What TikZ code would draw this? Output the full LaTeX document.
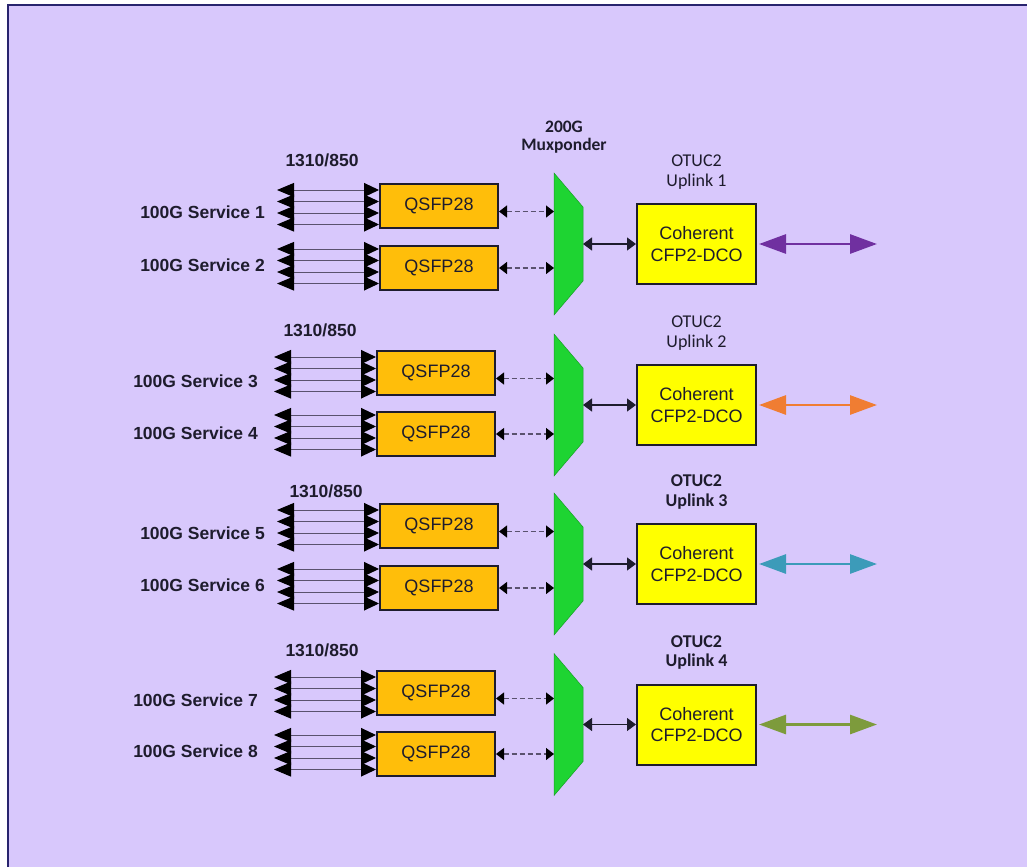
\documentclass[tikz,border=0pt]{standalone}
\usepackage{fontspec}
\setmainfont{Liberation Sans}
\newfontfamily\calfont{Carlito}
\usetikzlibrary{arrows.meta,calc}
\definecolor{bg}{RGB}{216,200,252}
\definecolor{framec}{RGB}{40,36,110}
\definecolor{qs}{RGB}{255,190,10}
\definecolor{coh}{RGB}{255,255,0}
\definecolor{muxc}{RGB}{30,212,50}
\definecolor{txt}{RGB}{30,28,45}
\definecolor{fib}{RGB}{90,82,110}
\definecolor{upa}{RGB}{112,48,160}
\definecolor{upb}{RGB}{240,125,50}
\definecolor{upc}{RGB}{60,155,185}
\definecolor{upd}{RGB}{125,155,60}
\begin{document}
\begin{tikzpicture}[x=1pt,y=-1pt,
 every node/.style={text=txt},
 lab/.style={font=\fontsize{17.5}{20}\selectfont\bfseries, anchor=east, inner sep=0},
 wave/.style={font=\fontsize{17.5}{20}\selectfont\bfseries, inner sep=0},
 qsfp/.style={draw=txt, fill=qs, line width=2pt, minimum width=118pt, minimum height=44pt, inner sep=0, font=\fontsize{18}{20}\selectfont},
 cohbox/.style={draw=txt, fill=coh, line width=2pt, minimum width=119pt, minimum height=80pt, inner sep=0, align=center, font=\fontsize{18}{21.5}\selectfont},
 fiber/.style={draw=fib, line width=1pt, {Triangle[length=17pt,width=14pt,color=black]}-{Triangle[length=15pt,width=14pt,color=black]}},
 dashline/.style={draw=fib, line width=1.2pt, dash pattern=on 5pt off 3pt, {Triangle[length=8pt,width=12pt,color=black]}-{Triangle[length=8pt,width=12pt,color=black]}},
 link/.style={draw=txt, line width=1.2pt, {Triangle[length=9pt,width=13pt]}-{Triangle[length=9pt,width=13pt]}},
 uplink/.style={line width=2.8pt, {Triangle[length=27pt,width=19pt]}-{Triangle[length=27pt,width=19pt]}},
 uplabm/.style={align=center, inner sep=0, font=\calfont\fontsize{18}{19.5}\selectfont},
 uplabb/.style={align=center, inner sep=0, font=\calfont\bfseries\fontsize{18}{19.5}\selectfont},
 muxshape/.style={fill=muxc, draw=muxc!75!black, line width=0.5pt}
]
\useasboundingbox (0,0) rectangle (1027,867);
\fill[white] (0,0) rectangle (1027,867);
\fill[bg] (8,5) rectangle (1027,867);
\draw[framec, line width=2.5pt] (8,867) -- (8,5) -- (1027,5);

\node[uplabb, font=\calfont\bfseries\fontsize{17.5}{18.5}\selectfont] (mxl) at (564,137) {200G\\Muxponder};

\foreach \g/\ta/\tb/\qx/\cy/\sr/\sa/\sb/\lx/\ly/\col/\st in {
 1/184/246/380/244/265/212/265/322/160/upa/uplabm,
 2/351/412/377/405/258/381/433/320/330/upb/uplabm,
 3/504/566/380/564/265/533/585/326/491/upc/uplabb,
 4/671/732/377/724.5/258/700/751/322/650/upd/uplabb}{
 \pgfmathtruncatemacro\sA{2*\g-1}
 \pgfmathtruncatemacro\sB{2*\g}
 % QSFP boxes
 \node[qsfp] (qa\g) at (\qx+59,\ta+22) {QSFP28};
 \node[qsfp] (qb\g) at (\qx+59,\tb+22) {QSFP28};
 % service labels
 \node[lab] (sa\g) at (\sr,\sa) {100G Service \sA};
 \node[lab] (sb\g) at (\sr,\sb) {100G Service \sB};
 \node[wave] (w\g) at (\lx,\ly) {1310/850};
 % fibre bundles
 \foreach \o in {7,18.5,30,41.5}
   \draw[fiber] ([xshift=-102pt,yshift=-\o pt]qa\g.north west) -- ([yshift=-\o pt]qa\g.north west);
 \foreach \o in {4,15.5,27,38.5}
   \draw[fiber] ([xshift=-102pt,yshift=-\o pt]qb\g.north west) -- ([yshift=-\o pt]qb\g.north west);
 % muxponder
 \coordinate (mtl\g) at (554,\cy-71);
 \coordinate (mtr\g) at (583,\cy-37);
 \coordinate (mbr\g) at (583,\cy+37);
 \coordinate (mbl\g) at (554,\cy+71);
 \coordinate (mw\g) at (554,\cy);
 \coordinate (me\g) at (583,\cy);
 \path[muxshape] (mtl\g) -- (mtr\g) -- (mbr\g) -- (mbl\g) -- cycle;
 % dashed links
 \path ([yshift=-28.5pt]qa\g.north east) coordinate (da\g);
 \path (qb\g.east) coordinate (db\g);
 \draw[dashline] (da\g) -- (mw\g |- da\g);
 \draw[dashline] (db\g) -- (mw\g |- db\g);
 % coherent module
 \node[cohbox] (c\g) at (696.5,\cy) {Coherent\\CFP2-DCO};
 \draw[link] (me\g) -- (c\g.west);
 \coordinate (ue\g) at (877,\cy);
 \draw[uplink, \col] ([xshift=2pt]c\g.east) -- (ue\g);
 \node[\st] (u\g) at ($(c\g.north)+(0,-31)$) {OTUC2\\Uplink \g};
}
\end{tikzpicture}
\end{document}
